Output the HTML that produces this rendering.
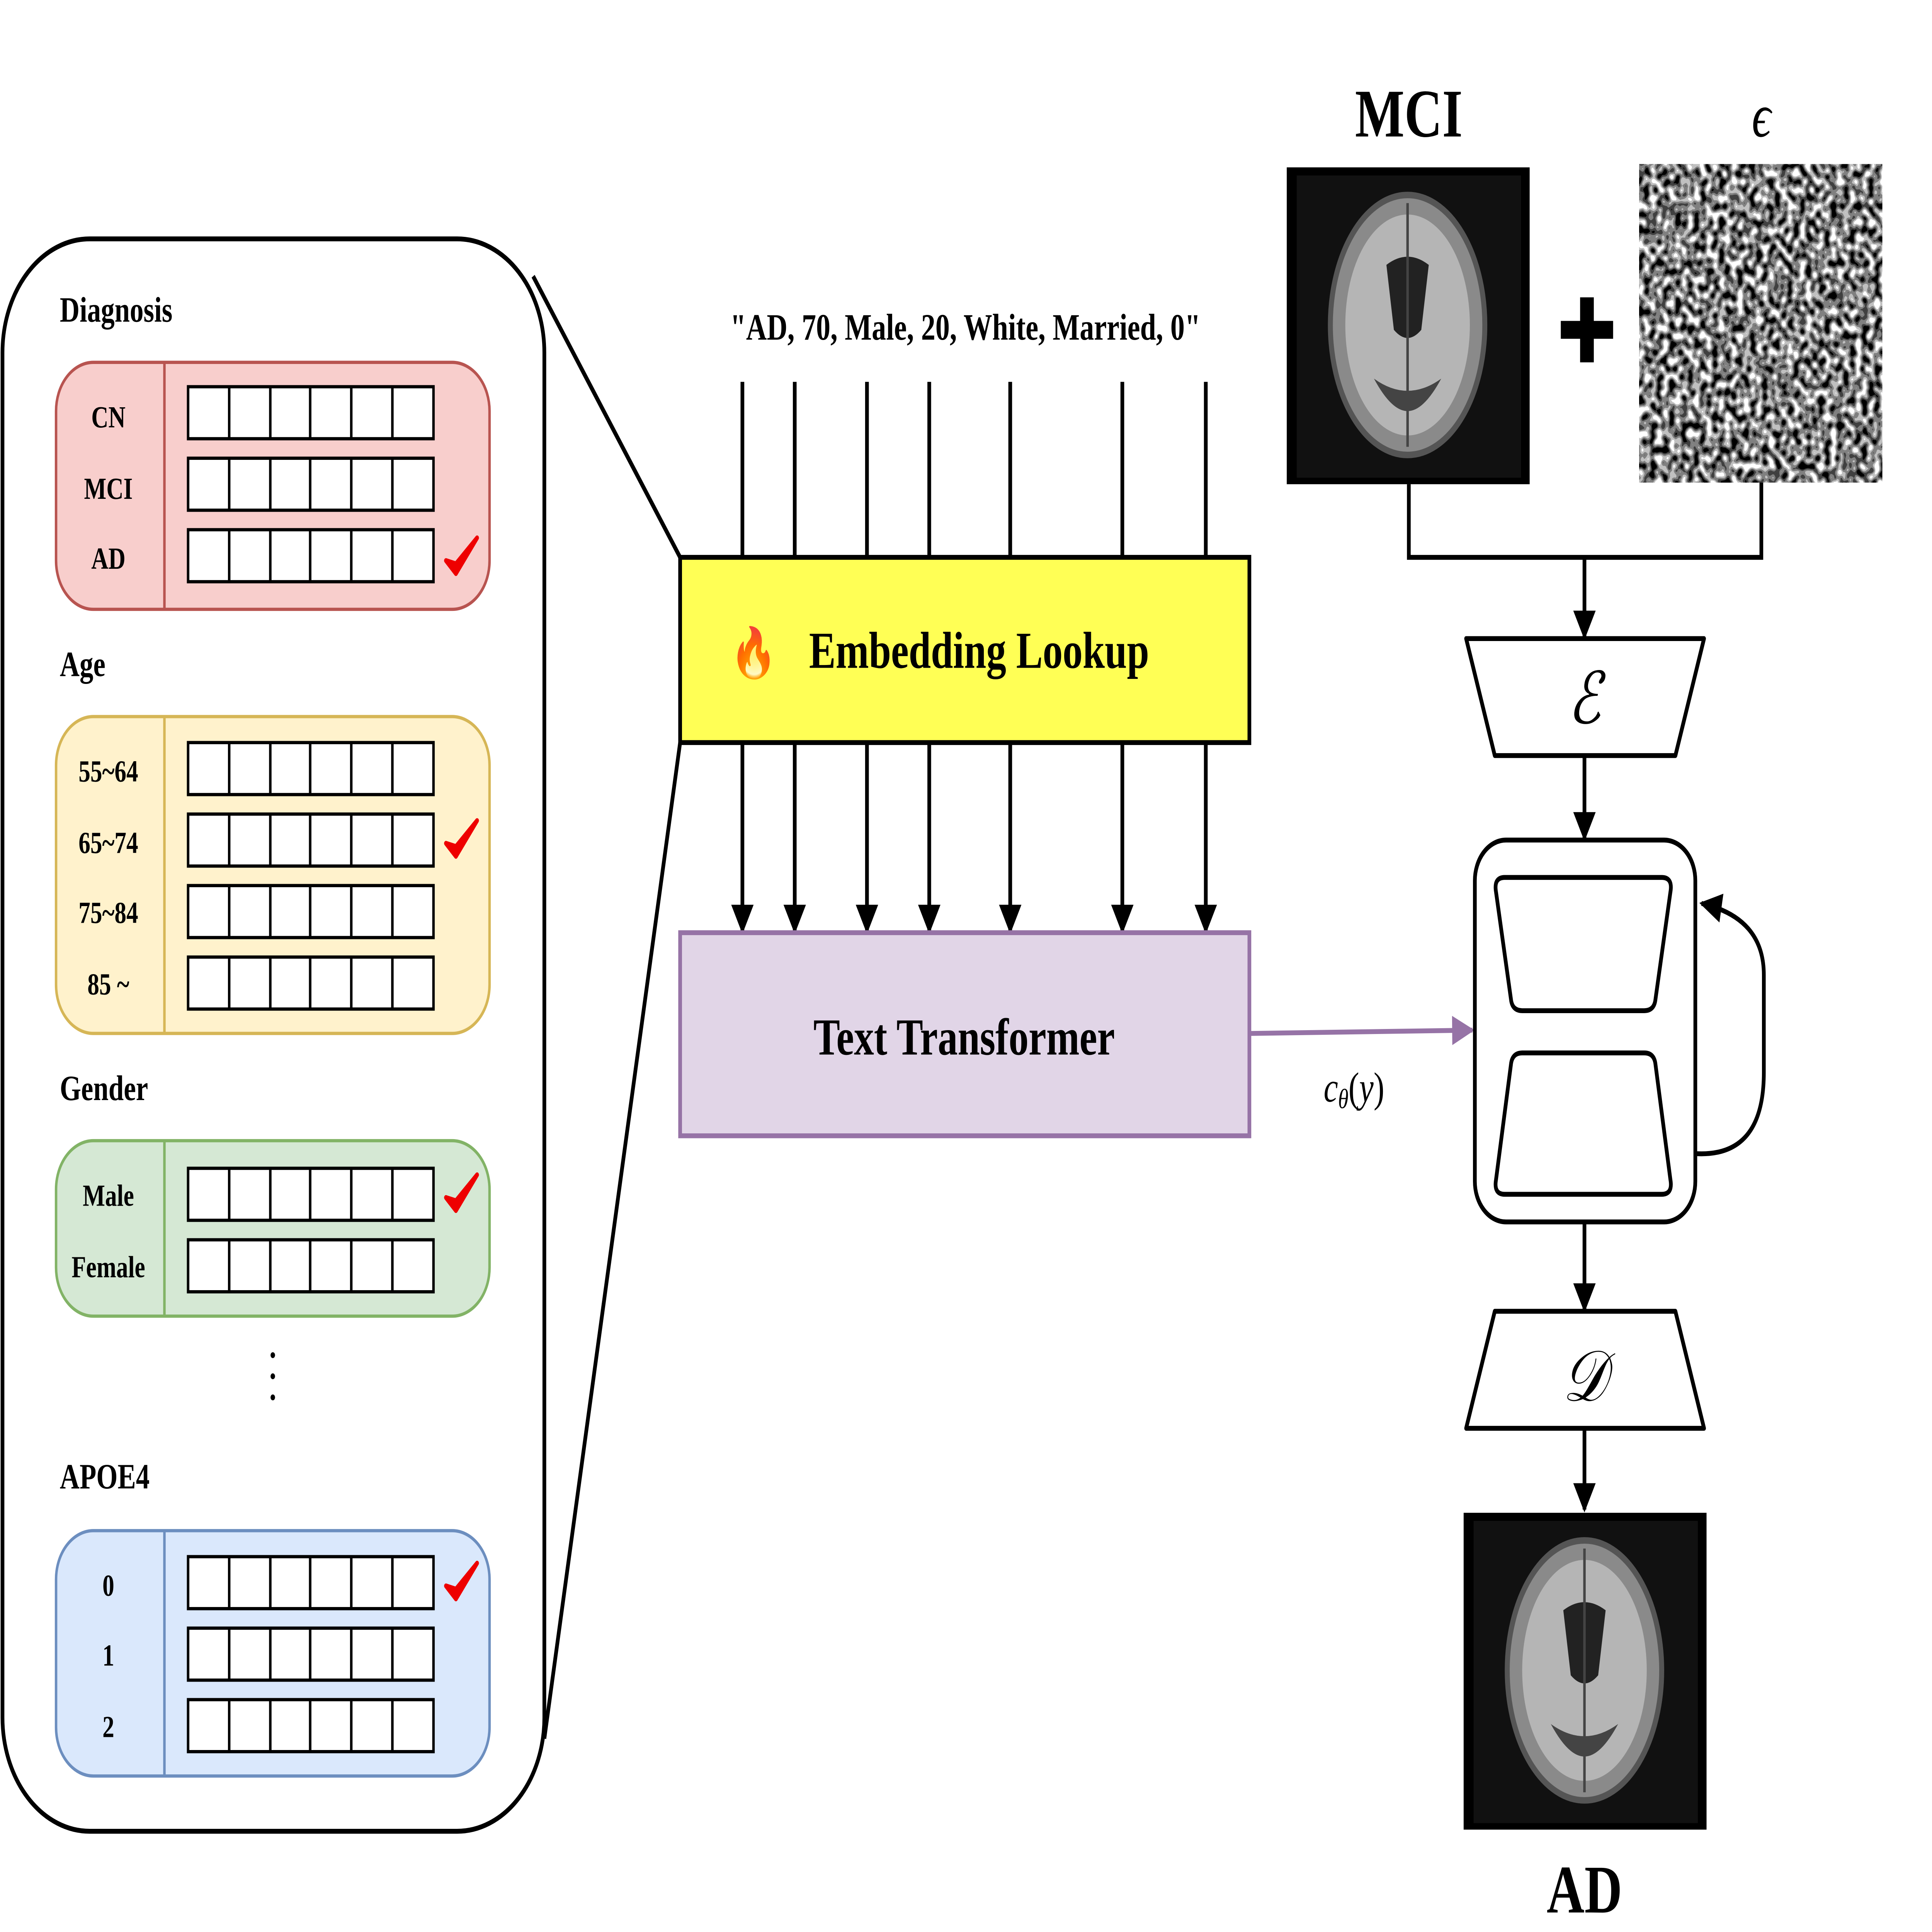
<!DOCTYPE html>
<html><head><meta charset="utf-8"><style>
html,body{margin:0;padding:0;background:#fff;width:100%;height:100%;overflow:hidden}
svg{display:block;width:100vw;height:100vh}
text{font-family:"Liberation Serif",serif;font-weight:bold;fill:#000}
</style></head><body>
<svg viewBox="0 0 1551 1189" preserveAspectRatio="none" xmlns="http://www.w3.org/2000/svg">
<defs>
<marker id="ah" viewBox="0 0 10 10" refX="9" refY="5" markerWidth="6.5" markerHeight="6" orient="auto" markerUnits="strokeWidth"><path d="M0,0 L10,5 L0,10 z" fill="#000"/></marker>
<marker id="ahp" viewBox="0 0 10 10" refX="9" refY="5" markerWidth="7" markerHeight="6" orient="auto" markerUnits="strokeWidth"><path d="M0,0 L10,5 L0,10 z" fill="#9673a6"/></marker>
<filter id="noise" x="0" y="0" width="100%" height="100%">
<feTurbulence type="fractalNoise" baseFrequency="0.2" numOctaves="1" seed="3"/>
<feColorMatrix type="matrix" values="0 0 0 0 0  0 0 0 0 0  0 0 0 0 0  2.2 0 0 0 -0.6"/>
<feComponentTransfer><feFuncA type="discrete" tableValues="0 0.25 0.5 0.75 1"/></feComponentTransfer>
</filter>
<g id="grid">
<rect x="0" y="0" width="197" height="32" fill="#fff" stroke="#000" stroke-width="2"/>
<line x1="33" y1="0" x2="33" y2="32" stroke="#000" stroke-width="2"/>
<line x1="66" y1="0" x2="66" y2="32" stroke="#000" stroke-width="2"/>
<line x1="98" y1="0" x2="98" y2="32" stroke="#000" stroke-width="2"/>
<line x1="131" y1="0" x2="131" y2="32" stroke="#000" stroke-width="2"/>
<line x1="164" y1="0" x2="164" y2="32" stroke="#000" stroke-width="2"/>
</g>
<path id="chk" d="M-13,2 L-5,10 L12,-12 L-5,4 z" fill="#e00" stroke="#e00" stroke-width="3" stroke-linejoin="round"/>
<g id="brain">
<rect x="0" y="0" width="195" height="195" fill="#000"/>
<rect x="8" y="5" width="180" height="186" fill="#111"/>
<ellipse cx="97" cy="97" rx="62" ry="80" fill="#8a8a8a" stroke="#555" stroke-width="4"/>
<ellipse cx="97" cy="97" rx="50" ry="68" fill="#b5b5b5"/>
<path d="M80,60 Q97,50 114,60 L108,100 Q97,110 86,100 z" fill="#222"/>
<path d="M70,130 Q97,145 124,130 Q110,150 97,150 Q84,150 70,130z" fill="#444"/>
<line x1="97" y1="22" x2="97" y2="172" stroke="#444" stroke-width="2"/>
</g>
</defs>

<rect x="2" y="147" width="435" height="980" rx="70" fill="#fff" stroke="#000" stroke-width="3"/>
<line x1="428" y1="170" x2="546" y2="343" stroke="#000" stroke-width="3"/>
<line x1="437" y1="1070" x2="546" y2="457" stroke="#000" stroke-width="3"/>

<text x="48" y="198" font-size="22">Diagnosis</text>
<rect x="45" y="223" width="348" height="152" rx="30" fill="#f8cecc" stroke="#b85450" stroke-width="2"/>
<line x1="132" y1="223" x2="132" y2="375" stroke="#b85450" stroke-width="2"/>
<g font-size="19" text-anchor="middle">
<text x="87" y="263">CN</text><text x="87" y="307">MCI</text><text x="87" y="350">AD</text></g>
<use href="#grid" x="151" y="238"/><use href="#grid" x="151" y="282"/><use href="#grid" x="151" y="326"/>
<use href="#chk" x="371" y="343"/>

<text x="48" y="416" font-size="22">Age</text>
<rect x="45" y="441" width="348" height="195" rx="30" fill="#fff2cc" stroke="#d6b656" stroke-width="2"/>
<line x1="132" y1="441" x2="132" y2="636" stroke="#d6b656" stroke-width="2"/>
<g font-size="19" text-anchor="middle">
<text x="87" y="481">55~64</text><text x="87" y="525">65~74</text><text x="87" y="568">75~84</text><text x="87" y="612">85 ~</text></g>
<use href="#grid" x="151" y="457"/><use href="#grid" x="151" y="501"/><use href="#grid" x="151" y="545"/><use href="#grid" x="151" y="589"/>
<use href="#chk" x="371" y="517"/>

<text x="48" y="677" font-size="22">Gender</text>
<rect x="45" y="702" width="348" height="108" rx="30" fill="#d5e8d4" stroke="#82b366" stroke-width="2"/>
<line x1="132" y1="702" x2="132" y2="810" stroke="#82b366" stroke-width="2"/>
<g font-size="19" text-anchor="middle">
<text x="87" y="742">Male</text><text x="87" y="786">Female</text></g>
<use href="#grid" x="151" y="719"/><use href="#grid" x="151" y="763"/>
<use href="#chk" x="371" y="735"/>

<circle cx="219" cy="834" r="1.8"/><circle cx="219" cy="847" r="1.8"/><circle cx="219" cy="860" r="1.8"/>

<text x="48" y="916" font-size="22">APOE4</text>
<rect x="45" y="942" width="348" height="151" rx="30" fill="#dae8fc" stroke="#6c8ebf" stroke-width="2"/>
<line x1="132" y1="942" x2="132" y2="1093" stroke="#6c8ebf" stroke-width="2"/>
<g font-size="19" text-anchor="middle">
<text x="87" y="982">0</text><text x="87" y="1025">1</text><text x="87" y="1069">2</text></g>
<use href="#grid" x="151" y="958"/><use href="#grid" x="151" y="1002"/><use href="#grid" x="151" y="1046"/>
<use href="#chk" x="371" y="974"/>

<text x="775" y="209" font-size="23" text-anchor="middle">"AD, 70, Male, 20, White, Married, 0"</text>
<g stroke="#000" stroke-width="3">
<line x1="596" y1="235" x2="596" y2="343"/><line x1="638" y1="235" x2="638" y2="343"/>
<line x1="696" y1="235" x2="696" y2="343"/><line x1="746" y1="235" x2="746" y2="343"/>
<line x1="811" y1="235" x2="811" y2="343"/><line x1="901" y1="235" x2="901" y2="343"/>
<line x1="968" y1="235" x2="968" y2="343"/>
</g>
<g stroke="#000" stroke-width="3" marker-end="url(#ah)">
<line x1="596" y1="457" x2="596" y2="573"/><line x1="638" y1="457" x2="638" y2="573"/>
<line x1="696" y1="457" x2="696" y2="573"/><line x1="746" y1="457" x2="746" y2="573"/>
<line x1="811" y1="457" x2="811" y2="573"/><line x1="901" y1="457" x2="901" y2="573"/>
<line x1="968" y1="457" x2="968" y2="573"/>
</g>
<rect x="546" y="343" width="457" height="114" fill="#ffff55" stroke="#000" stroke-width="3"/>
<text x="605" y="412" font-size="30" text-anchor="middle" style="font-family:'Noto Color Emoji','DejaVu Sans',sans-serif">🔥</text>
<text x="786" y="411" font-size="32" text-anchor="middle">Embedding Lookup</text>

<rect x="546" y="574" width="457" height="125" fill="#e1d5e7" stroke="#9673a6" stroke-width="3"/>
<text x="774" y="649" font-size="32" text-anchor="middle">Text Transformer</text>
<line x1="1004" y1="636" x2="1182" y2="634" stroke="#9673a6" stroke-width="3" marker-end="url(#ahp)"/>
<text x="1087" y="678" font-size="26" text-anchor="middle" style="font-weight:normal;font-style:italic">c<tspan font-size="17" dy="4">θ</tspan><tspan dy="-4" style="font-style:normal">(</tspan>y<tspan style="font-style:normal">)</tspan></text>

<text x="1131" y="84" font-size="42" text-anchor="middle">MCI</text>
<use href="#brain" x="1033" y="103"/>
<text x="1414" y="84" font-size="38" text-anchor="middle" style="font-weight:normal;font-style:italic">ϵ</text>
<rect x="1316" y="101" width="195" height="196" fill="#fff"/>
<rect x="1316" y="101" width="195" height="196" fill="#000" filter="url(#noise)"/>
<path d="M1253,203 H1295 M1274,183 V223" stroke="#000" stroke-width="11"/>
<path d="M1131,298 V343 H1414 V297" fill="none" stroke="#000" stroke-width="3"/>
<line x1="1272" y1="343" x2="1272" y2="392" stroke="#000" stroke-width="3" marker-end="url(#ah)"/>
<path d="M1177,393 H1368 L1345,465 H1200 z" fill="#fff" stroke="#000" stroke-width="3" stroke-linejoin="round"/>
<text x="1272" y="445" font-size="44" text-anchor="middle" style="font-weight:normal;font-style:italic">ℰ</text>
<line x1="1272" y1="465" x2="1272" y2="516" stroke="#000" stroke-width="3" marker-end="url(#ah)"/>
<rect x="1184" y="517" width="177" height="235" rx="25" fill="#fff" stroke="#000" stroke-width="3"/>
<path d="M1208,540 H1334 Q1343,540 1341,549 L1329,615 Q1328,622 1320,622 H1222 Q1214,622 1213,615 L1201,549 Q1199,540 1208,540z" fill="#fff" stroke="#000" stroke-width="3"/>
<path d="M1222,648 H1320 Q1328,648 1329,655 L1341,726 Q1343,735 1334,735 H1208 Q1199,735 1201,726 L1213,655 Q1214,648 1222,648z" fill="#fff" stroke="#000" stroke-width="3"/>
<path d="M1362,710 Q1416,712 1416,660 V600 Q1416,565 1366,556" fill="none" stroke="#000" stroke-width="3" marker-end="url(#ah)"/>
<line x1="1272" y1="752" x2="1272" y2="806" stroke="#000" stroke-width="3" marker-end="url(#ah)"/>
<path d="M1200,807 H1345 L1368,879 H1177 z" fill="#fff" stroke="#000" stroke-width="3" stroke-linejoin="round"/>
<text x="1272" y="862" font-size="44" text-anchor="middle" style="font-weight:normal;font-style:italic">𝒟</text>
<line x1="1272" y1="879" x2="1272" y2="929" stroke="#000" stroke-width="3" marker-end="url(#ah)"/>
<use href="#brain" x="1175" y="931"/>
<text x="1272" y="1177" font-size="42" text-anchor="middle">AD</text>
</svg>
</body></html>
